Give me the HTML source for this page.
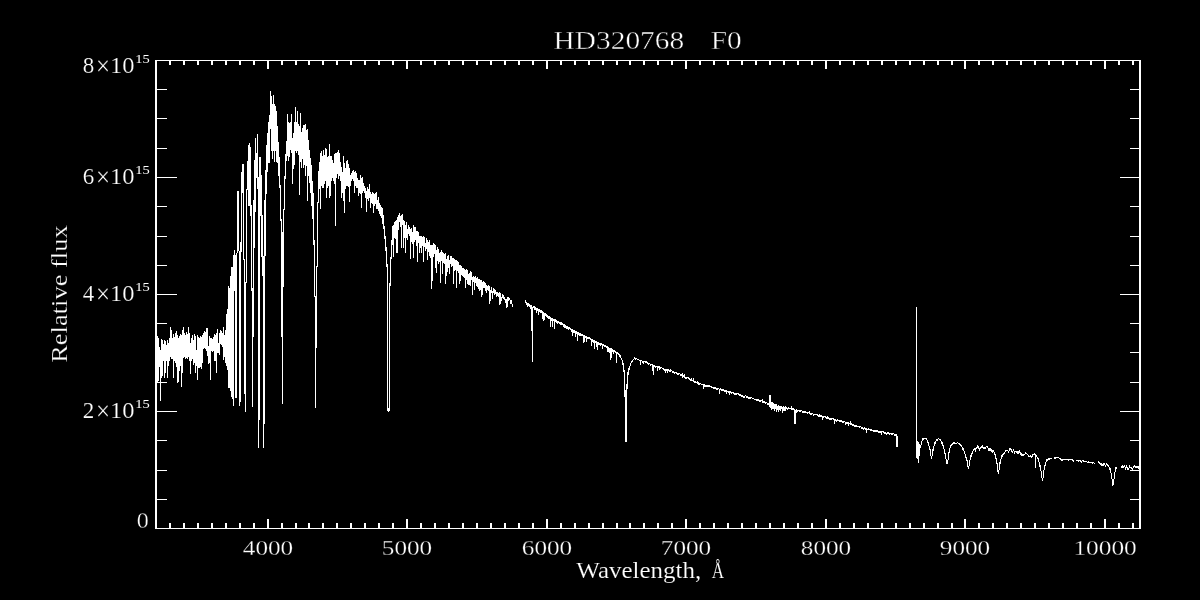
<!DOCTYPE html>
<html lang="en"><head><meta charset="utf-8"><title>HD320768 F0</title>
<style>
html,body{margin:0;padding:0;background:#000;}
body{width:1200px;height:600px;overflow:hidden;}
svg{display:block}
text{font-family:"Liberation Serif",serif;fill:#fff;stroke:#000;stroke-width:0.3px;}
</style></head>
<body>
<svg width="1200" height="600" viewBox="0 0 1200 600">
<rect width="1200" height="600" fill="#000"/>
<g fill="#fff" shape-rendering="crispEdges">
<path d="M155 60h2v469h-2zM1139 60h2v469h-2zM155 60h986v1h-986zM155 528h986v1h-986zM169 523h2v5h-2zM169 61h2v4h-2zM183 523h2v5h-2zM183 61h2v4h-2zM197 523h2v5h-2zM197 61h2v4h-2zM211 523h2v5h-2zM211 61h2v4h-2zM225 523h2v5h-2zM225 61h2v4h-2zM239 523h2v5h-2zM239 61h2v4h-2zM253 523h2v5h-2zM253 61h2v4h-2zM267 519h2v9h-2zM267 61h2v8h-2zM281 523h2v5h-2zM281 61h2v4h-2zM295 523h2v5h-2zM295 61h2v4h-2zM308 523h2v5h-2zM308 61h2v4h-2zM322 523h2v5h-2zM322 61h2v4h-2zM336 523h2v5h-2zM336 61h2v4h-2zM350 523h2v5h-2zM350 61h2v4h-2zM364 523h2v5h-2zM364 61h2v4h-2zM378 523h2v5h-2zM378 61h2v4h-2zM392 523h2v5h-2zM392 61h2v4h-2zM406 519h2v9h-2zM406 61h2v8h-2zM420 523h2v5h-2zM420 61h2v4h-2zM434 523h2v5h-2zM434 61h2v4h-2zM448 523h2v5h-2zM448 61h2v4h-2zM462 523h2v5h-2zM462 61h2v4h-2zM476 523h2v5h-2zM476 61h2v4h-2zM490 523h2v5h-2zM490 61h2v4h-2zM504 523h2v5h-2zM504 61h2v4h-2zM518 523h2v5h-2zM518 61h2v4h-2zM532 523h2v5h-2zM532 61h2v4h-2zM546 519h2v9h-2zM546 61h2v8h-2zM560 523h2v5h-2zM560 61h2v4h-2zM574 523h2v5h-2zM574 61h2v4h-2zM588 523h2v5h-2zM588 61h2v4h-2zM602 523h2v5h-2zM602 61h2v4h-2zM616 523h2v5h-2zM616 61h2v4h-2zM629 523h2v5h-2zM629 61h2v4h-2zM643 523h2v5h-2zM643 61h2v4h-2zM657 523h2v5h-2zM657 61h2v4h-2zM671 523h2v5h-2zM671 61h2v4h-2zM685 519h2v9h-2zM685 61h2v8h-2zM699 523h2v5h-2zM699 61h2v4h-2zM713 523h2v5h-2zM713 61h2v4h-2zM727 523h2v5h-2zM727 61h2v4h-2zM741 523h2v5h-2zM741 61h2v4h-2zM755 523h2v5h-2zM755 61h2v4h-2zM769 523h2v5h-2zM769 61h2v4h-2zM783 523h2v5h-2zM783 61h2v4h-2zM797 523h2v5h-2zM797 61h2v4h-2zM811 523h2v5h-2zM811 61h2v4h-2zM825 519h2v9h-2zM825 61h2v8h-2zM839 523h2v5h-2zM839 61h2v4h-2zM853 523h2v5h-2zM853 61h2v4h-2zM867 523h2v5h-2zM867 61h2v4h-2zM881 523h2v5h-2zM881 61h2v4h-2zM895 523h2v5h-2zM895 61h2v4h-2zM909 523h2v5h-2zM909 61h2v4h-2zM923 523h2v5h-2zM923 61h2v4h-2zM937 523h2v5h-2zM937 61h2v4h-2zM951 523h2v5h-2zM951 61h2v4h-2zM964 519h2v9h-2zM964 61h2v8h-2zM978 523h2v5h-2zM978 61h2v4h-2zM992 523h2v5h-2zM992 61h2v4h-2zM1006 523h2v5h-2zM1006 61h2v4h-2zM1020 523h2v5h-2zM1020 61h2v4h-2zM1034 523h2v5h-2zM1034 61h2v4h-2zM1048 523h2v5h-2zM1048 61h2v4h-2zM1062 523h2v5h-2zM1062 61h2v4h-2zM1076 523h2v5h-2zM1076 61h2v4h-2zM1090 523h2v5h-2zM1090 61h2v4h-2zM1104 519h2v9h-2zM1104 61h2v8h-2zM1118 523h2v5h-2zM1118 61h2v4h-2zM1132 523h2v5h-2zM1132 61h2v4h-2zM157 499h10v1h-10zM1130 499h9v1h-9zM157 470h10v1h-10zM1130 470h9v1h-9zM157 440h10v1h-10zM1130 440h9v1h-9zM157 411h20v1h-20zM1120 411h19v1h-19zM157 382h10v1h-10zM1130 382h9v1h-9zM157 352h10v1h-10zM1130 352h9v1h-9zM157 323h10v1h-10zM1130 323h9v1h-9zM157 294h20v1h-20zM1120 294h19v1h-19zM157 265h10v1h-10zM1130 265h9v1h-9zM157 236h10v1h-10zM1130 236h9v1h-9zM157 206h10v1h-10zM1130 206h9v1h-9zM157 177h20v1h-20zM1120 177h19v1h-19zM157 148h10v1h-10zM1130 148h9v1h-9zM157 118h10v1h-10zM1130 118h9v1h-9zM157 89h10v1h-10zM1130 89h9v1h-9z"/>
<path d="M157 336h1v47h-1zM158 338h1v43h-1zM159 347h1v20h-1zM160 350h1v51h-1zM161 339h1v39h-1zM162 340h1v36h-1zM163 344h1v17h-1zM164 340h1v38h-1zM165 341h1v32h-1zM166 345h1v16h-1zM167 340h1v38h-1zM168 343h1v23h-1zM169 338h1v23h-1zM170 327h1v30h-1zM171 330h1v29h-1zM172 338h1v21h-1zM173 334h1v44h-1zM174 337h1v24h-1zM175 333h1v30h-1zM176 331h1v36h-1zM177 335h1v48h-1zM178 338h1v44h-1zM179 336h1v35h-1zM180 334h1v32h-1zM181 335h1v52h-1zM182 330h1v43h-1zM183 327h1v31h-1zM184 333h1v24h-1zM185 335h1v24h-1zM186 332h1v26h-1zM187 334h1v25h-1zM188 327h1v30h-1zM189 333h1v28h-1zM190 343h1v31h-1zM191 338h1v23h-1zM192 335h1v24h-1zM193 340h1v25h-1zM194 334h1v29h-1zM195 336h1v37h-1zM196 350h1v16h-1zM197 335h1v45h-1zM198 337h1v31h-1zM199 338h1v30h-1zM200 336h1v31h-1zM201 337h1v32h-1zM202 335h1v28h-1zM203 333h1v16h-1zM204 331h1v17h-1zM205 332h1v17h-1zM206 328h1v23h-1zM207 328h1v28h-1zM208 346h1v18h-1zM209 336h1v27h-1zM210 338h1v42h-1zM211 338h1v13h-1zM212 339h1v13h-1zM213 337h1v14h-1zM214 334h1v27h-1zM215 335h1v26h-1zM216 333h1v40h-1zM217 329h1v24h-1zM218 343h1v10h-1zM219 333h1v22h-1zM220 330h1v14h-1zM221 331h1v14h-1zM222 333h1v14h-1zM223 327h1v33h-1zM224 335h1v22h-1zM225 330h1v33h-1zM226 314h1v52h-1zM227 309h1v61h-1zM228 286h1v102h-1zM229 288h1v100h-1zM230 276h1v115h-1zM231 267h1v130h-1zM232 267h1v132h-1zM233 255h1v151h-1zM234 250h1v41h-1zM235 255h1v143h-1zM236 253h1v145h-1zM237 191h1v62h-1zM238 191h1v60h-1zM239 251h1v155h-1zM240 242h1v160h-1zM241 172h1v80h-1zM242 164h1v29h-1zM243 164h1v96h-1zM244 259h1v135h-1zM245 282h1v130h-1zM246 189h1v94h-1zM247 161h1v29h-1zM248 145h1v61h-1zM249 143h1v63h-1zM250 147h1v69h-1zM251 205h1v86h-1zM252 288h1v119h-1zM253 200h1v137h-1zM254 160h1v88h-1zM255 138h1v74h-1zM256 153h1v25h-1zM257 134h1v55h-1zM258 177h1v271h-1zM259 157h1v263h-1zM260 157h1v59h-1zM261 175h1v82h-1zM262 215h1v61h-1zM263 256h1v192h-1zM264 200h1v224h-1zM265 170h1v86h-1zM266 145h1v49h-1zM267 133h1v39h-1zM268 122h1v41h-1zM269 115h1v48h-1zM270 91h1v38h-1zM271 96h1v55h-1zM272 104h1v55h-1zM273 95h1v56h-1zM274 104h1v58h-1zM275 106h1v45h-1zM276 111h1v51h-1zM277 126h1v37h-1zM278 142h1v34h-1zM279 157h1v31h-1zM280 185h1v36h-1zM281 219h1v118h-1zM282 232h1v172h-1zM283 209h1v78h-1zM284 176h1v34h-1zM285 154h1v25h-1zM286 141h1v20h-1zM287 114h1v42h-1zM288 122h1v39h-1zM289 123h1v34h-1zM290 122h1v28h-1zM291 114h1v39h-1zM292 138h1v46h-1zM293 133h1v36h-1zM294 122h1v43h-1zM295 107h1v44h-1zM296 122h1v31h-1zM297 111h1v40h-1zM298 124h1v31h-1zM299 126h1v69h-1zM300 113h1v49h-1zM301 132h1v36h-1zM302 128h1v31h-1zM303 125h1v43h-1zM304 125h1v40h-1zM305 124h1v52h-1zM306 130h1v36h-1zM307 129h1v72h-1zM308 140h1v36h-1zM309 150h1v33h-1zM310 158h1v35h-1zM311 165h1v41h-1zM312 181h1v38h-1zM313 193h1v52h-1zM314 240h1v57h-1zM315 296h1v112h-1zM316 266h1v82h-1zM317 202h1v65h-1zM318 171h1v32h-1zM319 162h1v27h-1zM320 153h1v56h-1zM321 151h1v35h-1zM322 156h1v32h-1zM323 150h1v38h-1zM324 155h1v29h-1zM325 148h1v33h-1zM326 149h1v49h-1zM327 157h1v31h-1zM328 156h1v30h-1zM329 144h1v54h-1zM330 156h1v40h-1zM331 156h1v25h-1zM332 160h1v18h-1zM333 163h1v18h-1zM334 154h1v30h-1zM335 153h1v73h-1zM336 153h1v25h-1zM337 152h1v22h-1zM338 150h1v29h-1zM339 153h1v23h-1zM340 162h1v19h-1zM341 167h1v31h-1zM342 172h1v21h-1zM343 156h1v45h-1zM344 163h1v50h-1zM345 168h1v21h-1zM346 161h1v25h-1zM347 160h1v26h-1zM348 164h1v23h-1zM349 168h1v34h-1zM350 175h1v11h-1zM351 173h1v8h-1zM352 171h1v8h-1zM353 170h1v11h-1zM354 172h1v21h-1zM355 171h1v15h-1zM356 173h1v15h-1zM357 178h1v10h-1zM358 180h1v16h-1zM359 180h1v13h-1zM360 175h1v19h-1zM361 178h1v30h-1zM362 177h1v16h-1zM363 183h1v8h-1zM364 186h1v7h-1zM365 188h1v10h-1zM366 191h1v21h-1zM367 187h1v12h-1zM368 189h1v12h-1zM369 184h1v14h-1zM370 192h1v16h-1zM371 194h1v9h-1zM372 192h1v12h-1zM373 193h1v20h-1zM374 194h1v12h-1zM375 193h1v11h-1zM376 192h1v17h-1zM377 200h1v9h-1zM378 197h1v14h-1zM379 203h1v11h-1zM380 205h1v11h-1zM381 207h1v11h-1zM382 208h1v16h-1zM383 215h1v14h-1zM384 226h1v13h-1zM385 236h1v15h-1zM386 247h1v20h-1zM387 264h1v147h-1zM388 408h1v4h-1zM389 283h1v128h-1zM390 257h1v29h-1zM391 240h1v19h-1zM392 226h1v19h-1zM393 225h1v32h-1zM394 222h1v16h-1zM395 221h1v18h-1zM396 220h1v33h-1zM397 217h1v36h-1zM398 215h1v15h-1zM399 213h1v9h-1zM400 216h1v11h-1zM401 215h1v33h-1zM402 214h1v11h-1zM403 220h1v28h-1zM404 221h1v17h-1zM405 225h1v28h-1zM406 222h1v16h-1zM407 229h1v11h-1zM408 225h1v9h-1zM409 227h1v9h-1zM410 229h1v30h-1zM411 228h1v14h-1zM412 232h1v12h-1zM413 225h1v33h-1zM414 227h1v15h-1zM415 227h1v13h-1zM416 231h1v15h-1zM417 231h1v31h-1zM418 232h1v11h-1zM419 236h1v17h-1zM420 236h1v12h-1zM421 236h1v17h-1zM422 237h1v9h-1zM423 236h1v26h-1zM424 237h1v10h-1zM425 243h1v8h-1zM426 238h1v11h-1zM427 240h1v20h-1zM428 242h1v10h-1zM429 240h1v16h-1zM430 245h1v13h-1zM431 245h1v44h-1zM432 245h1v36h-1zM433 243h1v14h-1zM434 244h1v10h-1zM435 245h1v23h-1zM436 250h1v23h-1zM437 247h1v14h-1zM438 249h1v15h-1zM439 253h1v9h-1zM440 252h1v31h-1zM441 250h1v11h-1zM442 252h1v22h-1zM443 253h1v10h-1zM444 254h1v10h-1zM445 253h1v31h-1zM446 259h1v17h-1zM447 256h1v16h-1zM448 255h1v13h-1zM449 260h1v14h-1zM450 256h1v8h-1zM451 256h1v11h-1zM452 258h1v8h-1zM453 258h1v26h-1zM454 259h1v12h-1zM455 260h1v10h-1zM456 260h1v28h-1zM457 261h1v10h-1zM458 262h1v11h-1zM459 265h1v19h-1zM460 265h1v16h-1zM461 266h1v9h-1zM462 268h1v8h-1zM463 268h1v9h-1zM464 269h1v9h-1zM465 270h1v18h-1zM466 269h1v11h-1zM467 270h1v14h-1zM468 274h1v11h-1zM469 273h1v12h-1zM470 271h1v15h-1zM471 272h1v8h-1zM472 277h1v18h-1zM473 276h1v6h-1zM474 277h1v13h-1zM475 276h1v7h-1zM476 278h1v8h-1zM477 277h1v10h-1zM478 279h1v10h-1zM479 279h1v12h-1zM480 280h1v10h-1zM481 280h1v17h-1zM482 282h1v13h-1zM483 281h1v7h-1zM484 282h1v6h-1zM485 283h1v8h-1zM486 285h1v8h-1zM487 286h1v4h-1zM488 285h1v6h-1zM489 286h1v18h-1zM490 290h1v11h-1zM491 287h1v6h-1zM492 291h1v8h-1zM493 288h1v5h-1zM494 289h1v6h-1zM495 290h1v4h-1zM496 292h1v5h-1zM497 292h1v4h-1zM498 293h1v4h-1zM499 292h1v13h-1zM500 293h1v11h-1zM501 297h1v4h-1zM502 294h1v4h-1zM503 295h1v4h-1zM504 297h1v3h-1zM505 299h1v4h-1zM506 299h1v9h-1zM507 297h1v10h-1zM508 297h1v4h-1zM509 298h1v2h-1zM510 300h1v4h-1zM511 300h1v4h-1zM512 304h1v3h-1zM525 300h1v3h-1zM526 302h1v3h-1zM527 303h1v4h-1zM528 303h1v3h-1zM529 304h1v3h-1zM530 305h1v4h-1zM531 305h1v26h-1zM532 307h1v55h-1zM533 306h1v2h-1zM534 306h1v4h-1zM535 307h1v3h-1zM536 308h1v5h-1zM537 308h1v3h-1zM538 309h1v6h-1zM539 309h1v3h-1zM540 310h1v3h-1zM541 310h1v3h-1zM542 311h1v8h-1zM543 312h1v9h-1zM544 313h1v7h-1zM545 313h1v3h-1zM546 314h1v3h-1zM547 315h1v3h-1zM548 316h1v3h-1zM549 316h1v3h-1zM550 317h1v10h-1zM551 318h1v3h-1zM552 318h1v9h-1zM553 319h1v2h-1zM554 319h1v10h-1zM555 319h1v3h-1zM556 320h1v3h-1zM557 321h1v3h-1zM558 321h1v2h-1zM559 322h1v2h-1zM560 322h1v3h-1zM561 322h1v3h-1zM562 323h1v2h-1zM563 324h1v3h-1zM564 324h1v4h-1zM565 325h1v3h-1zM566 326h1v3h-1zM567 326h1v3h-1zM568 327h1v3h-1zM569 327h1v2h-1zM570 328h1v2h-1zM571 329h1v3h-1zM572 329h1v7h-1zM573 330h1v3h-1zM574 330h1v3h-1zM575 331h1v6h-1zM576 331h1v3h-1zM577 332h1v9h-1zM578 332h1v3h-1zM579 333h1v3h-1zM580 333h1v3h-1zM581 334h1v2h-1zM582 334h1v2h-1zM583 335h1v8h-1zM584 335h1v7h-1zM585 336h1v2h-1zM586 336h1v6h-1zM587 337h1v2h-1zM588 337h1v2h-1zM589 337h1v2h-1zM590 338h1v2h-1zM591 339h1v7h-1zM592 339h1v3h-1zM593 340h1v3h-1zM594 340h1v9h-1zM595 341h1v2h-1zM596 341h1v6h-1zM597 342h1v8h-1zM598 342h1v3h-1zM599 343h1v2h-1zM600 343h1v3h-1zM601 343h1v2h-1zM602 344h1v5h-1zM603 344h1v2h-1zM604 345h1v2h-1zM605 345h1v2h-1zM606 346h1v2h-1zM607 346h1v6h-1zM608 347h1v5h-1zM609 348h1v5h-1zM610 348h1v12h-1zM611 348h1v10h-1zM612 349h1v3h-1zM613 350h1v4h-1zM614 350h1v2h-1zM615 351h1v2h-1zM616 352h1v11h-1zM617 352h1v2h-1zM618 353h1v2h-1zM619 354h1v3h-1zM620 355h1v3h-1zM621 358h1v2h-1zM622 360h1v5h-1zM623 363h1v9h-1zM624 370h1v27h-1zM625 390h1v52h-1zM626 384h1v58h-1zM627 372h1v17h-1zM628 368h1v7h-1zM629 366h1v4h-1zM630 363h1v3h-1zM631 361h1v2h-1zM632 360h1v2h-1zM633 359h1v1h-1zM634 357h1v2h-1zM635 358h1v2h-1zM636 358h1v1h-1zM637 359h1v1h-1zM638 359h1v1h-1zM639 360h1v1h-1zM640 360h1v5h-1zM641 360h1v1h-1zM642 361h1v2h-1zM643 361h1v3h-1zM644 361h1v1h-1zM645 361h1v2h-1zM646 361h1v2h-1zM647 362h1v2h-1zM648 363h1v2h-1zM649 363h1v1h-1zM650 364h1v2h-1zM651 364h1v1h-1zM652 364h1v7h-1zM653 365h1v10h-1zM654 365h1v2h-1zM655 366h1v2h-1zM656 366h1v1h-1zM657 366h1v5h-1zM658 366h1v2h-1zM659 366h1v4h-1zM660 367h1v2h-1zM661 367h1v1h-1zM662 368h1v1h-1zM663 368h1v2h-1zM664 369h1v2h-1zM665 369h1v4h-1zM666 369h1v2h-1zM667 369h1v4h-1zM668 369h1v2h-1zM669 370h1v2h-1zM670 369h1v3h-1zM671 370h1v1h-1zM672 371h1v2h-1zM673 371h1v2h-1zM674 372h1v2h-1zM675 372h1v1h-1zM676 372h1v2h-1zM677 373h1v2h-1zM678 373h1v2h-1zM679 373h1v1h-1zM680 374h1v2h-1zM681 374h1v2h-1zM682 373h1v5h-1zM683 375h1v2h-1zM684 374h1v4h-1zM685 377h1v2h-1zM686 377h1v2h-1zM687 377h1v1h-1zM688 377h1v2h-1zM689 378h1v2h-1zM690 379h1v2h-1zM691 378h1v3h-1zM692 380h1v1h-1zM693 378h1v4h-1zM694 381h1v2h-1zM695 381h1v2h-1zM696 382h1v1h-1zM697 381h1v3h-1zM698 382h1v3h-1zM699 383h1v2h-1zM700 383h1v1h-1zM701 384h1v1h-1zM702 384h1v1h-1zM703 384h1v5h-1zM704 384h1v3h-1zM705 385h1v2h-1zM706 385h1v2h-1zM707 385h1v2h-1zM708 385h1v2h-1zM709 385h1v2h-1zM710 386h1v1h-1zM711 386h1v2h-1zM712 387h1v1h-1zM713 387h1v2h-1zM714 387h1v2h-1zM715 387h1v2h-1zM716 388h1v2h-1zM717 388h1v2h-1zM718 388h1v1h-1zM719 389h1v5h-1zM720 388h1v2h-1zM721 389h1v2h-1zM722 389h1v2h-1zM723 389h1v2h-1zM724 390h1v2h-1zM725 390h1v2h-1zM726 390h1v4h-1zM727 391h1v1h-1zM728 391h1v2h-1zM729 391h1v4h-1zM730 391h1v2h-1zM731 392h1v2h-1zM732 392h1v1h-1zM733 392h1v2h-1zM734 393h1v2h-1zM735 393h1v2h-1zM736 393h1v2h-1zM737 393h1v1h-1zM738 393h1v2h-1zM739 394h1v2h-1zM740 394h1v2h-1zM741 395h1v2h-1zM742 395h1v2h-1zM743 396h1v2h-1zM744 396h1v2h-1zM745 395h1v1h-1zM746 396h1v2h-1zM747 396h1v2h-1zM748 397h1v2h-1zM749 397h1v2h-1zM750 397h1v2h-1zM751 397h1v1h-1zM752 398h1v1h-1zM753 398h1v1h-1zM754 399h1v1h-1zM755 399h1v1h-1zM756 399h1v2h-1zM757 399h1v2h-1zM758 399h1v2h-1zM759 400h1v2h-1zM760 400h1v2h-1zM761 400h1v1h-1zM762 399h1v4h-1zM763 401h1v2h-1zM764 401h1v2h-1zM765 402h1v2h-1zM766 402h1v1h-1zM767 403h1v2h-1zM768 403h1v2h-1zM769 395h1v12h-1zM770 395h1v13h-1zM771 402h1v8h-1zM772 402h1v7h-1zM773 403h1v6h-1zM774 404h1v7h-1zM775 404h1v5h-1zM776 404h1v8h-1zM777 406h1v4h-1zM778 405h1v7h-1zM779 406h1v4h-1zM780 406h1v5h-1zM781 406h1v3h-1zM782 407h1v6h-1zM783 406h1v5h-1zM784 407h1v4h-1zM785 406h1v5h-1zM786 407h1v2h-1zM787 408h1v2h-1zM788 407h1v2h-1zM789 408h1v1h-1zM790 408h1v1h-1zM791 406h1v4h-1zM792 408h1v2h-1zM793 408h1v2h-1zM794 409h1v15h-1zM795 410h1v14h-1zM796 409h1v4h-1zM797 410h1v2h-1zM798 410h1v1h-1zM799 410h1v2h-1zM800 410h1v2h-1zM801 410h1v1h-1zM802 411h1v2h-1zM803 411h1v2h-1zM804 411h1v2h-1zM805 411h1v2h-1zM806 412h1v1h-1zM807 412h1v2h-1zM808 412h1v1h-1zM809 411h1v3h-1zM810 413h1v2h-1zM811 413h1v2h-1zM812 413h1v1h-1zM813 414h1v2h-1zM814 414h1v1h-1zM815 414h1v1h-1zM816 414h1v1h-1zM817 414h1v2h-1zM818 415h1v2h-1zM819 414h1v3h-1zM820 415h1v2h-1zM821 415h1v2h-1zM822 416h1v4h-1zM823 416h1v2h-1zM824 416h1v1h-1zM825 416h1v2h-1zM826 417h1v2h-1zM827 416h1v3h-1zM828 417h1v2h-1zM829 418h1v2h-1zM830 418h1v2h-1zM831 418h1v2h-1zM832 418h1v1h-1zM833 418h1v2h-1zM834 419h1v5h-1zM835 419h1v2h-1zM836 420h1v2h-1zM837 419h1v2h-1zM838 420h1v1h-1zM839 420h1v2h-1zM840 420h1v2h-1zM841 420h1v2h-1zM842 421h1v2h-1zM843 421h1v2h-1zM844 421h1v1h-1zM845 422h1v3h-1zM846 422h1v2h-1zM847 422h1v2h-1zM848 422h1v4h-1zM849 423h1v1h-1zM850 421h1v4h-1zM851 423h1v2h-1zM852 424h1v2h-1zM853 424h1v2h-1zM854 425h1v2h-1zM855 425h1v2h-1zM856 425h1v2h-1zM857 426h1v1h-1zM858 426h1v1h-1zM859 426h1v2h-1zM860 426h1v1h-1zM861 427h1v2h-1zM862 427h1v2h-1zM863 428h1v2h-1zM864 427h1v2h-1zM865 428h1v2h-1zM866 428h1v5h-1zM867 429h1v1h-1zM868 428h1v2h-1zM869 429h1v1h-1zM870 429h1v2h-1zM871 429h1v2h-1zM872 430h1v1h-1zM873 430h1v2h-1zM874 430h1v2h-1zM875 430h1v2h-1zM876 430h1v2h-1zM877 430h1v2h-1zM878 431h1v2h-1zM879 431h1v2h-1zM880 431h1v2h-1zM881 431h1v4h-1zM882 431h1v1h-1zM883 431h1v2h-1zM884 432h1v2h-1zM885 432h1v2h-1zM886 433h1v2h-1zM887 432h1v2h-1zM888 432h1v2h-1zM889 433h1v2h-1zM890 433h1v1h-1zM891 433h1v2h-1zM892 433h1v2h-1zM893 433h1v1h-1zM894 434h1v2h-1zM895 434h1v2h-1zM896 434h1v13h-1zM897 436h1v11h-1zM916 307h1v151h-1zM917 441h1v18h-1zM918 442h1v21h-1zM919 444h1v12h-1zM920 445h1v3h-1zM921 441h1v4h-1zM922 438h1v3h-1zM923 438h1v2h-1zM924 438h1v1h-1zM925 438h1v1h-1zM926 438h1v2h-1zM927 440h1v3h-1zM928 442h1v4h-1zM929 446h1v4h-1zM930 449h1v7h-1zM931 456h1v3h-1zM932 449h1v7h-1zM933 446h1v5h-1zM934 442h1v4h-1zM935 441h1v3h-1zM936 439h1v2h-1zM937 439h1v2h-1zM938 438h1v1h-1zM939 439h1v1h-1zM940 439h1v2h-1zM941 441h1v3h-1zM942 442h1v4h-1zM943 445h1v4h-1zM944 449h1v5h-1zM945 453h1v6h-1zM946 459h1v5h-1zM947 460h1v4h-1zM948 452h1v8h-1zM949 448h1v5h-1zM950 445h1v3h-1zM951 444h1v2h-1zM952 443h1v2h-1zM953 442h1v2h-1zM954 442h1v2h-1zM955 443h1v1h-1zM956 443h1v1h-1zM957 442h1v1h-1zM958 443h1v1h-1zM959 443h1v2h-1zM960 444h1v2h-1zM961 445h1v2h-1zM962 447h1v3h-1zM963 448h1v3h-1zM964 451h1v3h-1zM965 454h1v4h-1zM966 457h1v4h-1zM967 460h1v7h-1zM968 466h1v3h-1zM969 460h1v6h-1zM970 455h1v5h-1zM971 453h1v4h-1zM972 451h1v3h-1zM973 449h1v2h-1zM974 448h1v2h-1zM975 448h1v4h-1zM976 447h1v2h-1zM977 445h1v3h-1zM978 446h1v3h-1zM979 448h1v3h-1zM980 447h1v2h-1zM981 446h1v2h-1zM982 445h1v3h-1zM983 447h1v2h-1zM984 447h1v2h-1zM985 447h1v2h-1zM986 446h1v1h-1zM987 446h1v2h-1zM988 448h1v3h-1zM989 448h1v3h-1zM990 448h1v3h-1zM991 449h1v3h-1zM992 450h1v3h-1zM993 450h1v2h-1zM994 452h1v3h-1zM995 454h1v5h-1zM996 458h1v6h-1zM997 463h1v9h-1zM998 470h1v4h-1zM999 462h1v8h-1zM1000 459h1v5h-1zM1001 455h1v4h-1zM1002 454h1v3h-1zM1003 453h1v2h-1zM1004 452h1v2h-1zM1005 450h1v2h-1zM1006 450h1v1h-1zM1007 450h1v1h-1zM1008 451h1v2h-1zM1009 448h1v3h-1zM1010 448h1v2h-1zM1011 449h1v3h-1zM1012 451h1v2h-1zM1013 449h1v2h-1zM1014 451h1v3h-1zM1015 451h1v1h-1zM1016 451h1v2h-1zM1017 451h1v3h-1zM1018 451h1v3h-1zM1019 450h1v3h-1zM1020 452h1v3h-1zM1021 453h1v3h-1zM1022 454h1v2h-1zM1023 454h1v2h-1zM1024 454h1v1h-1zM1025 452h1v2h-1zM1026 453h1v1h-1zM1027 454h1v1h-1zM1028 455h1v2h-1zM1029 456h1v1h-1zM1030 455h1v2h-1zM1031 456h1v2h-1zM1032 454h1v3h-1zM1033 454h1v1h-1zM1034 453h1v2h-1zM1035 454h1v14h-1zM1036 455h1v2h-1zM1037 457h1v2h-1zM1038 458h1v4h-1zM1039 462h1v5h-1zM1040 465h1v6h-1zM1041 471h1v7h-1zM1042 478h1v3h-1zM1043 470h1v8h-1zM1044 465h1v5h-1zM1045 462h1v4h-1zM1046 459h1v3h-1zM1047 459h1v2h-1zM1048 458h1v2h-1zM1049 458h1v2h-1zM1050 458h1v1h-1zM1051 458h1v1h-1zM1054 457h1v2h-1zM1055 457h1v2h-1zM1056 457h1v1h-1zM1057 457h1v1h-1zM1058 457h1v1h-1zM1059 458h1v1h-1zM1060 458h1v2h-1zM1061 459h1v2h-1zM1062 459h1v2h-1zM1063 459h1v1h-1zM1064 459h1v1h-1zM1065 459h1v1h-1zM1066 459h1v1h-1zM1067 459h1v1h-1zM1068 459h1v2h-1zM1069 459h1v1h-1zM1070 459h1v1h-1zM1071 459h1v1h-1zM1072 459h1v2h-1zM1073 460h1v2h-1zM1076 460h1v1h-1zM1077 460h1v1h-1zM1078 460h1v2h-1zM1079 460h1v1h-1zM1080 460h1v2h-1zM1081 461h1v2h-1zM1082 460h1v1h-1zM1083 460h1v2h-1zM1084 461h1v1h-1zM1085 461h1v1h-1zM1086 461h1v1h-1zM1087 462h1v1h-1zM1088 461h1v2h-1zM1089 462h1v1h-1zM1090 462h1v1h-1zM1091 462h1v1h-1zM1092 462h1v2h-1zM1093 462h1v1h-1zM1094 463h1v1h-1zM1098 461h1v2h-1zM1099 462h1v2h-1zM1100 463h1v2h-1zM1101 463h1v3h-1zM1102 464h1v2h-1zM1103 463h1v3h-1zM1104 463h1v2h-1zM1105 465h1v2h-1zM1106 463h1v2h-1zM1107 464h1v2h-1zM1108 465h1v2h-1zM1109 467h1v3h-1zM1110 468h1v5h-1zM1111 473h1v6h-1zM1112 479h1v7h-1zM1113 479h1v6h-1zM1114 472h1v7h-1zM1115 467h1v5h-1zM1116 467h1v2h-1zM1121 466h1v2h-1zM1122 465h1v3h-1zM1123 466h1v2h-1zM1124 465h1v2h-1zM1125 467h1v3h-1zM1126 465h1v3h-1zM1127 467h1v3h-1zM1128 468h1v2h-1zM1129 465h1v3h-1zM1130 467h1v1h-1zM1131 467h1v2h-1zM1132 468h1v3h-1zM1133 466h1v2h-1zM1134 465h1v2h-1zM1135 466h1v2h-1zM1136 466h1v2h-1zM1137 466h1v2h-1zM1138 466h1v3h-1zM1139 467h1v3h-1z"/>
</g>
<g>
<text y="49.3" font-size="26" style="stroke-width:0.45px"><tspan x="553.6" textLength="130.6" lengthAdjust="spacingAndGlyphs">HD320768</tspan> <tspan x="710.8" textLength="31" lengthAdjust="spacingAndGlyphs">F0</tspan></text>
<text x="242.8" y="555.3" font-size="21.5" text-anchor="start" textLength="50.4" lengthAdjust="spacingAndGlyphs">4000</text>
<text x="381.8" y="555.3" font-size="21.5" text-anchor="start" textLength="50.4" lengthAdjust="spacingAndGlyphs">5000</text>
<text x="521.8" y="555.3" font-size="21.5" text-anchor="start" textLength="50.4" lengthAdjust="spacingAndGlyphs">6000</text>
<text x="660.8" y="555.3" font-size="21.5" text-anchor="start" textLength="50.4" lengthAdjust="spacingAndGlyphs">7000</text>
<text x="800.8" y="555.3" font-size="21.5" text-anchor="start" textLength="50.4" lengthAdjust="spacingAndGlyphs">8000</text>
<text x="939.8" y="555.3" font-size="21.5" text-anchor="start" textLength="50.4" lengthAdjust="spacingAndGlyphs">9000</text>
<text x="1073.4" y="555.3" font-size="21.5" text-anchor="start" textLength="63.4" lengthAdjust="spacingAndGlyphs">10000</text>
<text y="577.8" font-size="22.5" style="stroke-width:0.15px"><tspan x="576.3" textLength="125" lengthAdjust="spacingAndGlyphs">Wavelength,</tspan> <tspan x="711.7" textLength="12.4" lengthAdjust="spacingAndGlyphs">Å</tspan></text>
<text y="73.3" font-size="22.5" style="stroke-width:0.2px"><tspan x="82.8" textLength="11.5" lengthAdjust="spacingAndGlyphs">8</tspan><tspan x="96" font-size="28" dy="1.5" textLength="14" lengthAdjust="spacingAndGlyphs">×</tspan><tspan x="110" dy="-1.5" textLength="24.5" lengthAdjust="spacingAndGlyphs">10</tspan><tspan x="135.3" dy="-10" font-size="13.5" style="stroke-width:0px" textLength="14.5" lengthAdjust="spacingAndGlyphs">15</tspan></text>
<text y="184.3" font-size="22.5" style="stroke-width:0.2px"><tspan x="82.8" textLength="11.5" lengthAdjust="spacingAndGlyphs">6</tspan><tspan x="96" font-size="28" dy="1.5" textLength="14" lengthAdjust="spacingAndGlyphs">×</tspan><tspan x="110" dy="-1.5" textLength="24.5" lengthAdjust="spacingAndGlyphs">10</tspan><tspan x="135.3" dy="-10" font-size="13.5" style="stroke-width:0px" textLength="14.5" lengthAdjust="spacingAndGlyphs">15</tspan></text>
<text y="301.3" font-size="22.5" style="stroke-width:0.2px"><tspan x="82.8" textLength="11.5" lengthAdjust="spacingAndGlyphs">4</tspan><tspan x="96" font-size="28" dy="1.5" textLength="14" lengthAdjust="spacingAndGlyphs">×</tspan><tspan x="110" dy="-1.5" textLength="24.5" lengthAdjust="spacingAndGlyphs">10</tspan><tspan x="135.3" dy="-10" font-size="13.5" style="stroke-width:0px" textLength="14.5" lengthAdjust="spacingAndGlyphs">15</tspan></text>
<text y="418.3" font-size="22.5" style="stroke-width:0.2px"><tspan x="82.8" textLength="11.5" lengthAdjust="spacingAndGlyphs">2</tspan><tspan x="96" font-size="28" dy="1.5" textLength="14" lengthAdjust="spacingAndGlyphs">×</tspan><tspan x="110" dy="-1.5" textLength="24.5" lengthAdjust="spacingAndGlyphs">10</tspan><tspan x="135.3" dy="-10" font-size="13.5" style="stroke-width:0px" textLength="14.5" lengthAdjust="spacingAndGlyphs">15</tspan></text>
<text x="136.8" y="528.3" font-size="22.5" text-anchor="start" textLength="12" lengthAdjust="spacingAndGlyphs">0</text>
<text transform="translate(67.3,362.8) rotate(-90)" font-size="22.5" style="stroke-width:0.22px" textLength="137.5" lengthAdjust="spacingAndGlyphs">Relative flux</text>
</g>
</svg>
</body></html>
